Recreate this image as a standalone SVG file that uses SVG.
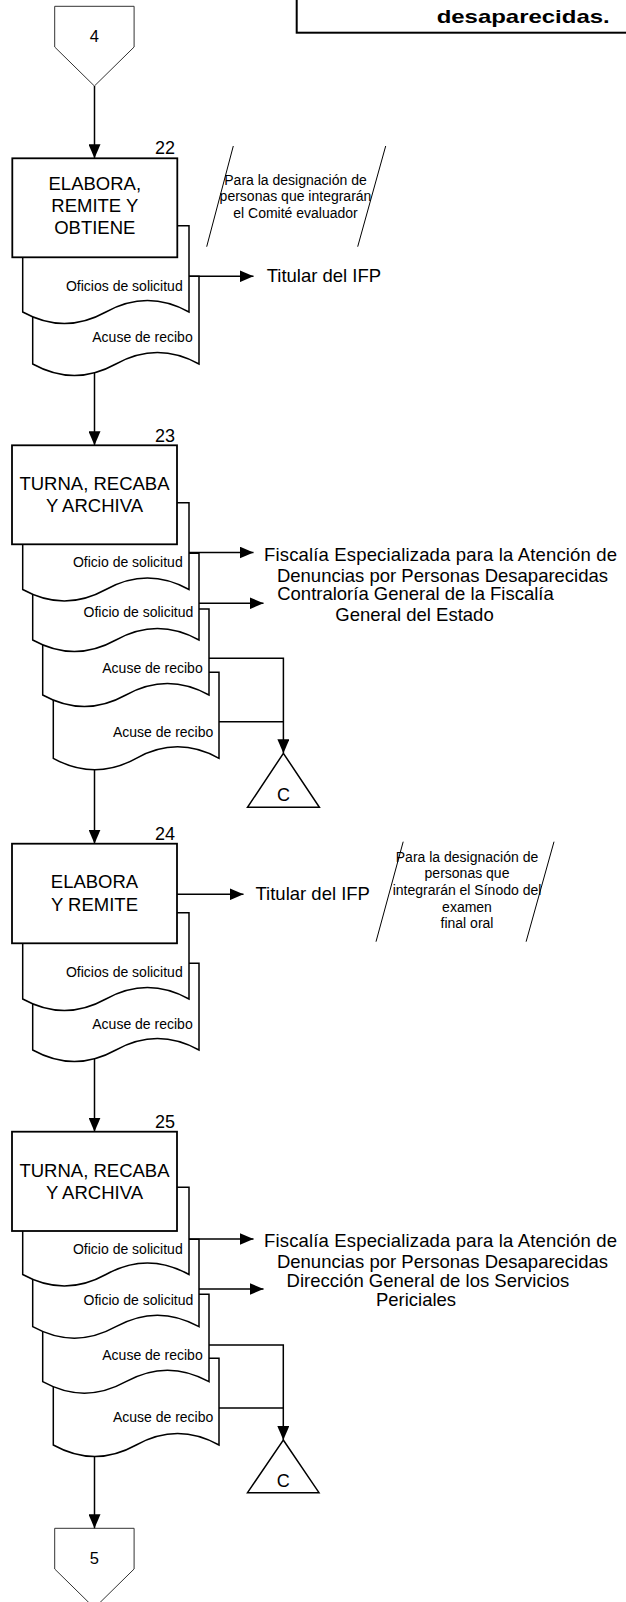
<svg xmlns="http://www.w3.org/2000/svg" width="626" height="1602" viewBox="0 0 626 1602">
<style>
text { font-family: "Liberation Sans", Arial, sans-serif; fill: #000; }
.box { fill: #fff; stroke: #000; stroke-width: 1.8; }
.doc { fill: #fff; stroke: #000; stroke-width: 1.5; }
.conn { fill: none; stroke: #000; stroke-width: 1.5; }
.ann { fill: none; stroke: #000; stroke-width: 1; }
.off { fill: #fff; stroke: #333; stroke-width: 1; }
.tri { fill: #fff; stroke: #000; stroke-width: 1.5; }
.big { font-size: 18.5px; }
.mid { text-anchor: middle; }
.sm { font-size: 14px; }
.end { text-anchor: end; }
.num { font-size: 18px; text-anchor: end; }
</style>
<defs>
<marker id="ah" markerWidth="14" markerHeight="12" refX="14" refY="6" orient="auto" markerUnits="userSpaceOnUse">
<path d="M0,0 L14,6 L0,12 Z" fill="#000"/>
</marker>
</defs>

<g id="header">
<rect x="296.7" y="-10" width="340" height="42.7" fill="#fff" stroke="#000" stroke-width="2"/>
<text x="436.7" y="23.3" font-size="18.5" font-weight="bold" textLength="173" lengthAdjust="spacingAndGlyphs">desaparecidas.</text>
</g>

<g id="off4">
<polygon class="off" points="54.7,6.3 134.1,6.3 134.1,47 94.4,86 54.7,47"/>
<text x="94.4" y="41.5" font-size="16.5" class="mid">4</text>
</g>

<!-- Section 22 -->
<g id="doc22b">
<path class="doc" d="M32.7,276.3 H199 V364 Q157.4,341 115.9,364 T32.7,364 Z"/>
<text x="192.7" y="341.7" class="sm end">Acuse de recibo</text>
</g>
<g id="doc22a">
<path class="doc" d="M22.7,225.7 H189 V312 Q147.4,289 105.9,312 T22.7,312 Z"/>
<text x="182.7" y="290.7" class="sm end">Oficios de solicitud</text>
</g>
<g id="box22">
<rect class="box" x="12.3" y="158.3" width="165" height="99"/>
<text x="94.8" y="190" class="big mid">ELABORA,</text>
<text x="94.8" y="212.3" class="big mid">REMITE Y</text>
<text x="94.8" y="234" class="big mid">OBTIENE</text>
<text x="175" y="154" class="num">22</text>
</g>
<g id="ann22">
<line class="ann" x1="233.3" y1="146" x2="206.7" y2="246.7"/>
<line class="ann" x1="385.7" y1="146" x2="357.7" y2="246.7"/>
<text x="295.5" y="184.8" class="sm mid">Para la designación de</text>
<text x="295.5" y="201.1" class="sm mid">personas que integrarán</text>
<text x="295.5" y="217.5" class="sm mid">el Comité evaluador</text>
</g>
<g id="lbl22">
<text x="266.7" y="281.7" class="big">Titular del IFP</text>
</g>

<!-- Section 23 -->
<g id="doc23d">
<path class="doc" d="M53.3,672.3 H219 V758.3 Q177.6,735.3 136.2,758.3 T53.3,758.3 Z"/>
<text x="213.3" y="736.7" class="sm end">Acuse de recibo</text>
</g>
<g id="doc23c">
<path class="doc" d="M42.7,609 H209 V695 Q167.4,672 125.9,695 T42.7,695 Z"/>
<text x="202.7" y="673.3" class="sm end">Acuse de recibo</text>
</g>
<g id="doc23b">
<path class="doc" d="M32.7,553.3 H199 V640 Q157.4,617 115.9,640 T32.7,640 Z"/>
<text x="193.3" y="617.3" class="sm end">Oficio de solicitud</text>
</g>
<g id="doc23a">
<path class="doc" d="M22.7,502.7 H189 V589.5 Q147.4,566.5 105.9,589.5 T22.7,589.5 Z"/>
<text x="182.7" y="567" class="sm end">Oficio de solicitud</text>
</g>
<g id="box23">
<rect class="box" x="12" y="445.3" width="165" height="99"/>
<text x="94.5" y="490" class="big mid">TURNA, RECABA</text>
<text x="94.5" y="512" class="big mid">Y ARCHIVA</text>
<text x="175" y="441.5" class="num">23</text>
</g>
<g id="lbl23a">
<text x="440.5" y="561" class="big mid" textLength="353">Fiscalía Especializada para la Atención de</text>
<text x="442.5" y="582" class="big mid">Denuncias por Personas Desaparecidas</text>
</g>
<g id="lbl23b">
<text x="415.5" y="600" class="big mid">Contraloría General de la Fiscalía</text>
<text x="414.5" y="620.5" class="big mid">General del Estado</text>
</g>
<g id="tri23">
<polygon class="tri" points="283.4,753.3 319.4,807.3 247.5,807.3"/>
<text x="283.4" y="801" font-size="18" class="mid">C</text>
</g>

<!-- Section 24 -->
<g id="doc24b">
<path class="doc" d="M32.7,963.3 H199 V1050 Q157.4,1027 115.9,1050 T32.7,1050 Z"/>
<text x="192.7" y="1029.3" class="sm end">Acuse de recibo</text>
</g>
<g id="doc24a">
<path class="doc" d="M22.7,912.7 H189 V999 Q147.4,976 105.9,999 T22.7,999 Z"/>
<text x="182.7" y="977.3" class="sm end">Oficios de solicitud</text>
</g>
<g id="box24">
<rect class="box" x="12" y="843.7" width="165" height="99.6"/>
<text x="94.5" y="887.5" class="big mid">ELABORA</text>
<text x="94.5" y="910.8" class="big mid">Y REMITE</text>
<text x="175" y="839.5" class="num">24</text>
</g>
<g id="lbl24">
<text x="255.5" y="900" class="big">Titular del IFP</text>
</g>
<g id="ann24">
<line class="ann" x1="403.2" y1="841.7" x2="376" y2="941.7"/>
<line class="ann" x1="554" y1="841.7" x2="526.1" y2="941.7"/>
<text x="467" y="861.7" class="sm mid">Para la designación de</text>
<text x="467" y="878.3" class="sm mid">personas que</text>
<text x="467" y="895" class="sm mid">integrarán el Sínodo del</text>
<text x="467" y="911.7" class="sm mid">examen</text>
<text x="467" y="927.9" class="sm mid">final oral</text>
</g>

<!-- Section 25 -->
<g id="doc25d">
<path class="doc" d="M53.3,1358.3 H219 V1445 Q177.6,1422 136.2,1445 T53.3,1445 Z"/>
<text x="213.3" y="1421.5" class="sm end">Acuse de recibo</text>
</g>
<g id="doc25c">
<path class="doc" d="M42.7,1294.3 H209 V1381.7 Q167.4,1358.7 125.9,1381.7 T42.7,1381.7 Z"/>
<text x="202.7" y="1360" class="sm end">Acuse de recibo</text>
</g>
<g id="doc25b">
<path class="doc" d="M32.7,1239.3 H199 V1326.7 Q157.4,1303.7 115.9,1326.7 T32.7,1326.7 Z"/>
<text x="193.3" y="1305" class="sm end">Oficio de solicitud</text>
</g>
<g id="doc25a">
<path class="doc" d="M22.7,1187.3 H189 V1274.5 Q147.4,1251.5 105.9,1274.5 T22.7,1274.5 Z"/>
<text x="182.7" y="1254" class="sm end">Oficio de solicitud</text>
</g>
<g id="box25">
<rect class="box" x="12" y="1131.7" width="165" height="99.3"/>
<text x="94.5" y="1176.7" class="big mid">TURNA, RECABA</text>
<text x="94.5" y="1199" class="big mid">Y ARCHIVA</text>
<text x="175" y="1127.9" class="num">25</text>
</g>
<g id="lbl25a">
<text x="440.5" y="1247.2" class="big mid" textLength="353">Fiscalía Especializada para la Atención de</text>
<text x="442.5" y="1267.8" class="big mid">Denuncias por Personas Desaparecidas</text>
</g>
<g id="lbl25b">
<text x="428" y="1287" class="big mid">Dirección General de los Servicios</text>
<text x="416" y="1306" class="big mid">Periciales</text>
</g>
<g id="tri25">
<polygon class="tri" points="283.3,1440 319,1492.7 247.5,1492.7"/>
<text x="283.3" y="1487" font-size="18" class="mid">C</text>
</g>

<g id="off5">
<polygon class="off" points="54.7,1528.3 134.1,1528.3 134.1,1569 94.4,1608 54.7,1569"/>
<text x="94.4" y="1564" font-size="16.5" class="mid">5</text>
</g>

<g id="connectors">
<path class="conn" d="M94.5,86 V158.3" marker-end="url(#ah)"/>
<path class="conn" d="M189,276.3 H253.5" marker-end="url(#ah)"/>
<path class="conn" d="M94.5,372.5 V445.3" marker-end="url(#ah)"/>
<path class="conn" d="M189,552.5 H253.5" marker-end="url(#ah)"/>
<path class="conn" d="M199,603.3 H263.5" marker-end="url(#ah)"/>
<path class="conn" d="M209,658.3 H283.4 V753.3" marker-end="url(#ah)"/>
<path class="conn" d="M219,721.7 H283.4"/>
<path class="conn" d="M94.5,769.5 V843.7" marker-end="url(#ah)"/>
<path class="conn" d="M177,894.3 H243.5" marker-end="url(#ah)"/>
<path class="conn" d="M94.5,1058.5 V1131.7" marker-end="url(#ah)"/>
<path class="conn" d="M189,1239 H253.5" marker-end="url(#ah)"/>
<path class="conn" d="M199,1289 H263.5" marker-end="url(#ah)"/>
<path class="conn" d="M209,1345 H283.3 V1440" marker-end="url(#ah)"/>
<path class="conn" d="M219,1408 H283.3"/>
<path class="conn" d="M94.5,1456.5 V1528.3" marker-end="url(#ah)"/>
</g>
</svg>
